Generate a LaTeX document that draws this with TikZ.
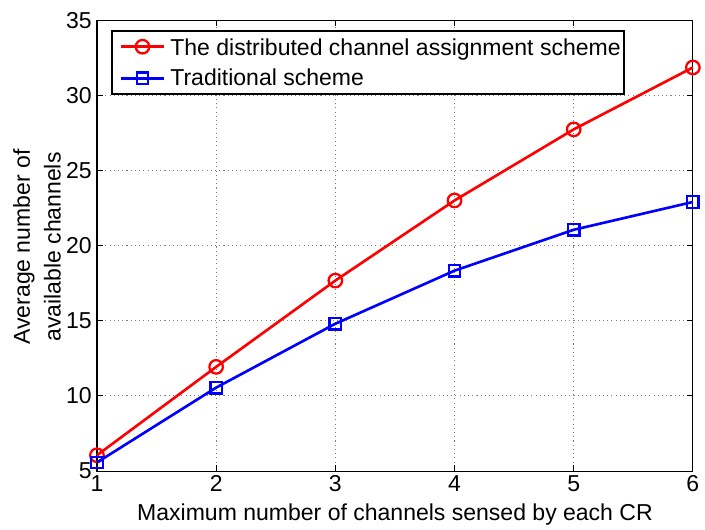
\documentclass[tikz,border=0pt]{standalone}
\usepackage{fontspec}
\setmainfont{Liberation Sans}
\definecolor{distributed}{RGB}{255,0,0}
\definecolor{traditional}{RGB}{0,0,255}
\definecolor{gridgray}{RGB}{130,130,130}

\begin{document}
\begin{tikzpicture}[x=0.02cm, y=0.02cm, font=\fontsize{13.1}{17.5}\selectfont]
    \tikzstyle{every node} = [inner sep=0pt]
    \tikzstyle{frame} = [black, line width=0.6pt]
    \tikzstyle{gridstyle} = [gridgray, line width=0.5pt, dash pattern=on 0.6pt off 1.8pt]
    \tikzstyle{distline} = [distributed, line width=1.5pt]
    \tikzstyle{tradline} = [traditional, line width=1.5pt]
    \tikzstyle{distmark} = [circle, draw=distributed, line width=1.3pt, minimum size=0.27cm]
    \tikzstyle{tradmark} = [rectangle, draw=traditional, line width=1.3pt, minimum size=0.23cm]

    \useasboundingbox (0,0) rectangle (705,529);

    % axes in data units
    \begin{scope}[shift={(-22.2,-17.165)}, x=2.384cm, y=0.30066cm]
        \foreach \gx in {2,...,5}
            \draw[gridstyle] (\gx,5) -- (\gx,35);
        \foreach \gy in {10,15,...,30}
            \draw[gridstyle] (1,\gy) -- (6,\gy);

        \foreach \gx in {1,...,6} {
            \draw[frame] (\gx,5) -- ++(0pt,0.12cm);
            \draw[frame] (\gx,35) -- ++(0pt,-0.12cm);
            \node[anchor=north] (xtick\gx) at ([yshift=-0.08cm]\gx,5) {\gx};
        }
        \foreach \gy in {5,10,...,35} {
            \draw[frame] (1,\gy) -- ++(0.12cm,0pt);
            \draw[frame] (6,\gy) -- ++(-0.12cm,0pt);
            \node[anchor=east] (ytick\gy) at ([xshift=-0.1cm]1,\gy) {\gy};
        }
        \draw[frame] (1,5) rectangle (6,35);

        % distributed scheme
        \foreach \px/\py [count=\i] in {1/6.05, 2/11.93, 3/17.67, 4/23.0, 5/27.73, 6/31.85}
            \node[distmark] (dist\i) at (\px,\py) {};
        \draw[distline] (dist1.center) \foreach \i in {2,...,6} { -- (dist\i.center) };

        % traditional scheme
        \foreach \px/\py [count=\i] in {1/5.57, 2/10.55, 3/14.8, 4/18.33, 5/21.05, 6/22.9}
            \node[tradmark] (trad\i) at (\px,\py) {};
        \draw[tradline] (trad1.center) \foreach \i in {2,...,6} { -- (trad\i.center) };
    \end{scope}

    % axis labels
    \node[anchor=base] (xlabel) at (395,9) {Maximum number of channels sensed by each CR};
    \node[rotate=90, align=center] (ylabel) at (37,282) {Average number of\\available channels};

    % legend
    \draw[frame, fill=white] (112,435) rectangle (624,498);
    \coordinate (leg1a) at (121,482.3);
    \coordinate (leg1b) at (164,482.3);
    \draw[distline] (leg1a) -- (leg1b);
    \node[distmark] (leg1) at (142.5,482.3) {};
    \node[anchor=base west] (legtext1) at (170,474) {The distributed channel assignment scheme};
    \coordinate (leg2a) at (121,450.7);
    \coordinate (leg2b) at (164,450.7);
    \draw[tradline] (leg2a) -- (leg2b);
    \node[tradmark] (leg2) at (142.5,450.7) {};
    \node[anchor=base west] (legtext2) at (170,444) {Traditional scheme};
\end{tikzpicture}
\end{document}
